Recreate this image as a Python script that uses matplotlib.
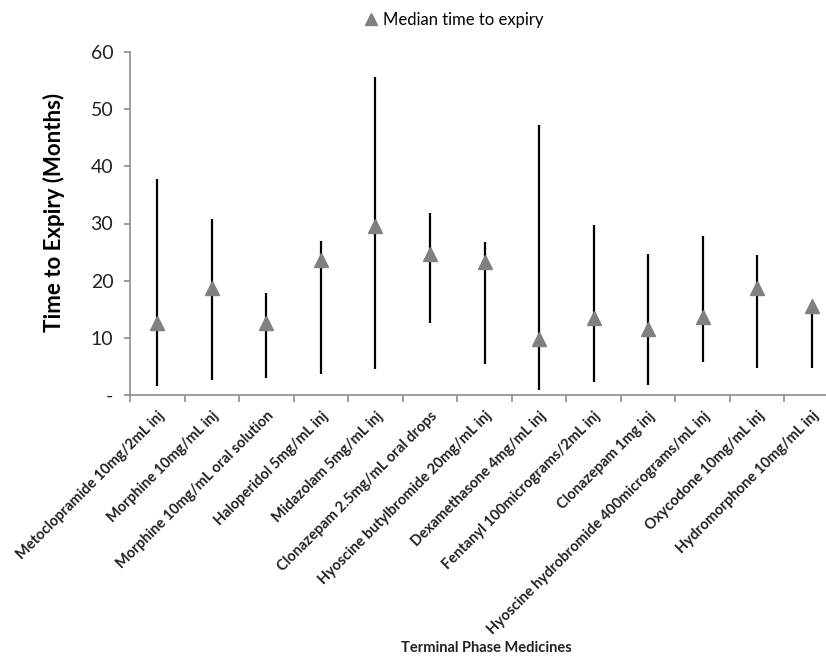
import matplotlib
matplotlib.use("Agg")
import matplotlib.pyplot as plt
from matplotlib.lines import Line2D
import numpy as np

categories = [
    "Metoclopramide 10mg/2mL inj",
    "Morphine 10mg/mL inj",
    "Morphine 10mg/mL oral solution",
    "Haloperidol 5mg/mL inj",
    "Midazolam 5mg/mL inj",
    "Clonazepam 2.5mg/mL oral drops",
    "Hyoscine butylbromide 20mg/mL inj",
    "Dexamethasone 4mg/mL inj",
    "Fentanyl 100micrograms/2mL inj",
    "Clonazepam 1mg inj",
    "Hyoscine hydrobromide 400micrograms/mL inj",
    "Oxycodone 10mg/mL inj",
    "Hydromorphone 10mg/mL inj",
]
max_vals = [37.8, 30.8, 17.9, 26.9, 55.6, 31.9, 26.7, 47.2, 29.8, 24.7, 27.9, 24.5, 15.6]
min_vals = [1.6, 2.6, 2.9, 3.7, 4.5, 12.6, 5.5, 0.8, 2.2, 1.7, 5.7, 4.8, 4.8]
median_vals = [12.6, 18.8, 12.6, 23.7, 29.6, 24.7, 23.2, 9.8, 13.5, 11.5, 13.7, 18.8, 15.6]
yticks = [0, 10, 20, 30, 40, 50, 60]
ytick_labels = ["-", "10", "20", "30", "40", "50", "60"]

plt.rcParams['font.family'] = ['Lato', 'DejaVu Sans']

W, H = 826, 658
fig = plt.figure(figsize=(W / 100, H / 100), dpi=100)
ax = fig.add_axes([130 / W, (H - 395) / H, 709 / W, (395 - 52) / H])

x = np.arange(len(categories))
ax.vlines(x, min_vals, max_vals, color="black", linewidth=1.6, zorder=2)
ax.plot(x, median_vals, linestyle="none", marker="^", markersize=10,
        color="#808080", markeredgecolor="#808080", zorder=3)

ax.set_xlim(-0.5, len(categories) - 0.5)
ax.set_ylim(0, 60)

for s in ["top", "right"]:
    ax.spines[s].set_visible(False)
for s in ["left", "bottom"]:
    ax.spines[s].set_color("#8c8c8c")
    ax.spines[s].set_linewidth(1.2)

ax.set_yticks(yticks)
ax.set_yticklabels(ytick_labels, fontsize=14, color="#222222")
ax.tick_params(axis="y", length=4, color="#8c8c8c", width=1.2, pad=8)

ax.set_xticks(x)
ax.set_xticklabels(categories, rotation=45, ha="right", rotation_mode="anchor",
                   fontsize=10.5, fontweight="bold", color="#222222")
ax.tick_params(axis="x", which="major", length=0, pad=10)
ax.set_xticks(np.arange(len(categories) + 1) - 0.5, minor=True)
ax.tick_params(axis="x", which="minor", length=5, color="#8c8c8c", width=1.2)

ax.set_ylabel("Time to Expiry (Months)", fontsize=16, fontweight="bold")
ax.yaxis.set_label_coords((65 - 130) / 709, (395 - 212) / 343)
fig.text(486 / W, 1 - 648 / H, "Terminal Phase Medicines", fontsize=10.5,
         fontweight="bold", ha="center", va="center", color="#222222")

handle = Line2D([], [], linestyle="none", marker="^", markersize=8,
                color="#808080")
fig.legend([handle], ["Median time to expiry"], loc="center",
           bbox_to_anchor=(453 / W, 1 - 20 / H), frameon=False, fontsize=12,
           handletextpad=0.2, handlelength=1.0)

fig.savefig("out.png", dpi=100)
